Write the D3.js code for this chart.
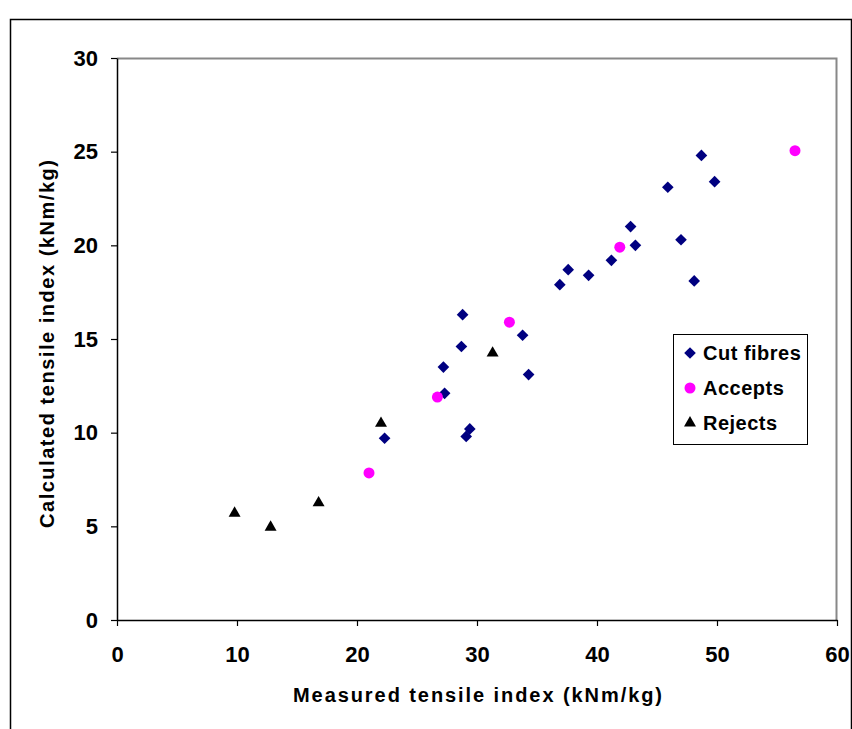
<!DOCTYPE html>
<html lang="en">
<head>
<meta charset="UTF-8">
<title>Tensile index</title>
<script src="https://d3js.org/d3.v7.min.js"></script>
<style>
  body { margin: 0; background: #fff; }
  text { font-family: "Liberation Sans", Arial, sans-serif; font-weight: bold; }
</style>
</head>
<body>
<script>
    // series values: [measured, calculated]
    cutFibres = [
        [22.3, 9.7], [29.1, 9.8], [29.4, 10.2], [27.3, 12.1], [27.2, 13.5],
        [28.7, 14.6], [28.8, 16.3], [33.8, 15.2], [34.3, 13.1], [36.9, 17.9],
        [37.6, 18.7], [39.3, 18.4], [41.2, 19.2], [42.8, 21.0], [43.2, 20.0],
        [45.9, 23.1], [47.0, 20.3], [48.1, 18.1], [48.7, 24.8], [49.8, 23.4]
    ]
    accepts = [[21.0, 7.85], [26.7, 11.9], [32.7, 15.9], [41.9, 19.9], [56.5, 25.05]]
    rejects = [[9.8, 5.7], [12.8, 4.95], [16.8, 6.25], [22.0, 10.5], [31.3, 14.25]]

    xTicks = [0, 10, 20, 30, 40, 50, 60]
    yTicks = [0, 5, 10, 15, 20, 25, 30]
    seriesNames = ["Cut fibres", "Accepts", "Rejects"]

    W = 852
    H = 729
    margin = {top: 58, right: 15, bottom: 109, left: 117}
    width = W - margin.left - margin.right
    height = H - margin.top - margin.bottom

    root = d3.select("body").append("svg")
        .attr("width", W)
        .attr("height", H)

    // outer frame
    root.append("path")
        .attr("d", "M10.5," + H + "V19.5H851.5V" + H)
        .attr("fill", "none")
        .attr("stroke", "#000")
        .attr("stroke-width", 1.5)

    svg = root.append("g")
        .attr("transform", "translate(" + margin.left + "," + margin.top + ")")

    x = d3.scaleLinear().domain([0, 60]).range([0, width])
    y = d3.scaleLinear().domain([0, 30]).range([height, 0])

    // plot area border (grey top/right)
    svg.append("path")
        .attr("d", "M0,0.5H" + (width - 0.5) + "V" + height)
        .attr("fill", "none")
        .attr("stroke", "#888")
        .attr("stroke-width", 2)

    xAxis = svg.append("g")
        .attr("transform", "translate(0," + height + ")")
        .call(d3.axisBottom(x).tickValues(xTicks).tickSize(6).tickSizeOuter(0).tickPadding(20))
    yAxis = svg.append("g")
        .call(d3.axisLeft(y).tickValues(yTicks).tickSize(6).tickSizeOuter(0).tickPadding(13))

    for (g of [xAxis, yAxis]) {
        g.select(".domain").attr("stroke", "#000").attr("stroke-width", 1.5)
        g.selectAll(".tick line").attr("stroke", "#000").attr("stroke-width", 1.2)
        g.selectAll(".tick text")
            .attr("font-size", 22)
            .attr("font-family", "'Liberation Sans', Arial, sans-serif")
            .attr("font-weight", "bold")
            .attr("fill", "#000")
    }

    diamond = d3.symbol().type(d3.symbolSquare).size(68)
    triangle = d3.symbol().type(d3.symbolTriangle).size(62)

    svg.selectAll("path.cut")
        .data(cutFibres)
        .join("path")
        .attr("class", "cut")
        .attr("d", diamond)
        .attr("transform", d => "translate(" + x(d[0]) + "," + y(d[1]) + ") rotate(45)")
        .attr("fill", "#000080")

    svg.selectAll("circle.acc")
        .data(accepts)
        .join("circle")
        .attr("class", "acc")
        .attr("cx", d => x(d[0]))
        .attr("cy", d => y(d[1]))
        .attr("r", 5.5)
        .attr("fill", "#ff00ff")

    svg.selectAll("path.rej")
        .data(rejects)
        .join("path")
        .attr("class", "rej")
        .attr("d", triangle)
        .attr("transform", d => "translate(" + x(d[0]) + "," + y(d[1]) + ")")
        .attr("fill", "#000")

    // axis titles
    svg.append("text")
        .attr("x", 176)
        .attr("y", height + 82)
        .attr("font-size", 20)
        .attr("textLength", 369)
        .attr("lengthAdjust", "spacing")
        .text("Measured tensile index (kNm/kg)")

    svg.append("text")
        .attr("transform", "translate(-63," + (height / 2 + 5) + ") rotate(-90)")
        .attr("x", -184)
        .attr("font-size", 20)
        .attr("textLength", 368)
        .attr("lengthAdjust", "spacing")
        .text("Calculated tensile index (kNm/kg)")

    // legend
    legend = root.append("g").attr("transform", "translate(673,334)")
    legend.append("rect")
        .attr("x", 0.5).attr("y", 0.5)
        .attr("width", 134).attr("height", 110)
        .attr("fill", "#fff")
        .attr("stroke", "#000")

    items = legend.selectAll("g.item")
        .data(seriesNames)
        .join("g")
        .attr("class", "item")
        .attr("transform", (d, i) => "translate(17," + (19 + i * 35) + ")")

    items.each(function (d, i) {
        g = d3.select(this)
        if (i == 0) g.append("path").attr("d", diamond).attr("transform", "rotate(45)").attr("fill", "#000080")
        if (i == 1) g.append("circle").attr("r", 5.5).attr("fill", "#ff00ff")
        if (i == 2) g.append("path").attr("d", triangle).attr("fill", "#000")
    })

    items.append("text")
        .attr("x", 13)
        .attr("y", 7)
        .attr("font-size", 20)
        .attr("letter-spacing", 0.5)
        .text(d => d)
</script>
</body>
</html>
